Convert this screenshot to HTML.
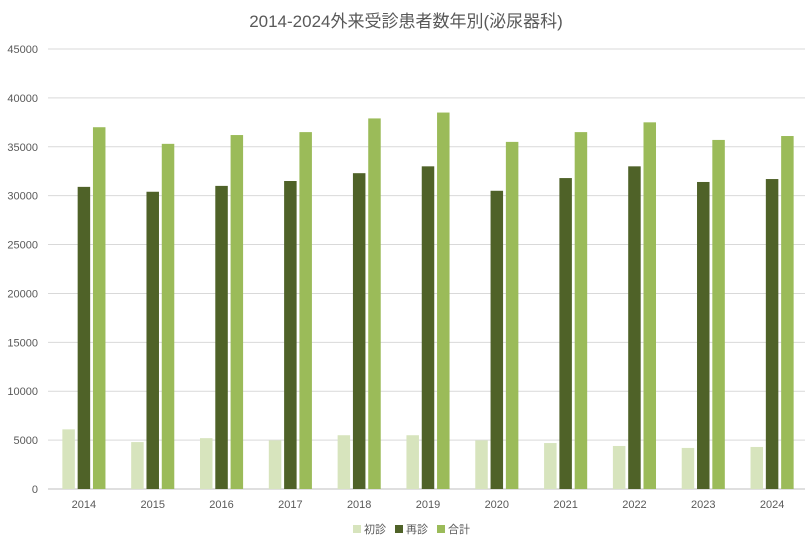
<!DOCTYPE html>
<html><head><meta charset="utf-8"><style>
body{margin:0;background:#fff;font-family:"Liberation Sans","Noto Sans CJK JP",sans-serif;}
svg text{font-family:"Liberation Sans","Noto Sans CJK JP",sans-serif;}
</style></head><body>
<svg id="chart" width="812" height="548">
<text x="406" y="27" text-anchor="middle" font-size="17" fill="#595959">2014-2024外来受診患者数年別(泌尿器科)</text>
<g id="grid"></g><g id="bars"></g><g id="axes"></g>
<g>
<g><rect x="353" y="525" width="8" height="8" fill="#d7e4bd"/><text x="364" y="533" font-size="11" fill="#595959">初診</text></g>
<g><rect x="395" y="525" width="8" height="8" fill="#4f6228"/><text x="406" y="533" font-size="11" fill="#595959">再診</text></g>
<g><rect x="437" y="525" width="8" height="8" fill="#9bbb59"/><text x="448" y="533" font-size="11" fill="#595959">合計</text></g>
</g>
</svg>
<script>
const categories=["2014","2015","2016","2017","2018","2019","2020","2021","2022","2023","2024"];
const shoshin=[6100,4800,5200,4970,5500,5500,4970,4700,4400,4200,4300];
const saishin=[30900,30400,31000,31500,32300,33000,30500,31800,33000,31400,31700];
const total=[37000,35300,36200,36500,37900,38500,35500,36500,37500,35700,36100];
const yTicks=[0,5000,10000,15000,20000,25000,30000,35000,40000,45000];
const L=48,R=805,T=49,B=489,yMax=45000;
const NS="http://www.w3.org/2000/svg";
const y=v=>B-(v/yMax)*(B-T);
const cw=(R-L)/categories.length;
const x=i=>L+cw*i+cw/2;
const grid=document.getElementById('grid'),bars=document.getElementById('bars'),axes=document.getElementById('axes');
yTicks.forEach(t=>{
 const l=document.createElementNS(NS,'line');
 l.setAttribute('x1',L);l.setAttribute('x2',R);l.setAttribute('y1',y(t));l.setAttribute('y2',y(t));
 l.setAttribute('stroke',t===0?'#bfbfbf':'#d9d9d9');l.setAttribute('stroke-width','1');
 
 
 grid.appendChild(l);
 const tx=document.createElementNS(NS,'text');
 tx.setAttribute('x',38);tx.setAttribute('y',y(t)+4);tx.setAttribute('text-anchor','end');
 tx.setAttribute('font-size','11');tx.setAttribute('fill','#595959');tx.textContent=t;
 
 
 axes.appendChild(tx);
});
const series=[[shoshin,'#d7e4bd','shoshin'],[saishin,'#4f6228','saishin'],[total,'#9bbb59','total']];
const bw=12.5,gap=2.8;
categories.forEach((c,i)=>{
 series.forEach((s,j)=>{
  const r=document.createElementNS(NS,'rect');
  const bx=x(i)+(j-1)*(bw+gap)-bw/2+1.5;
  r.setAttribute('x',bx);r.setAttribute('width',bw);
  r.setAttribute('y',y(s[0][i]));r.setAttribute('height',B-y(s[0][i]));
  r.setAttribute('fill',s[1]);
  
  
  bars.appendChild(r);
 });
 const tx=document.createElementNS(NS,'text');
 tx.setAttribute('x',x(i)+1.5);tx.setAttribute('y',508);tx.setAttribute('text-anchor','middle');
 tx.setAttribute('font-size','11');tx.setAttribute('fill','#595959');tx.textContent=c;
 
 
 axes.appendChild(tx);
});
</script>
</body></html>
